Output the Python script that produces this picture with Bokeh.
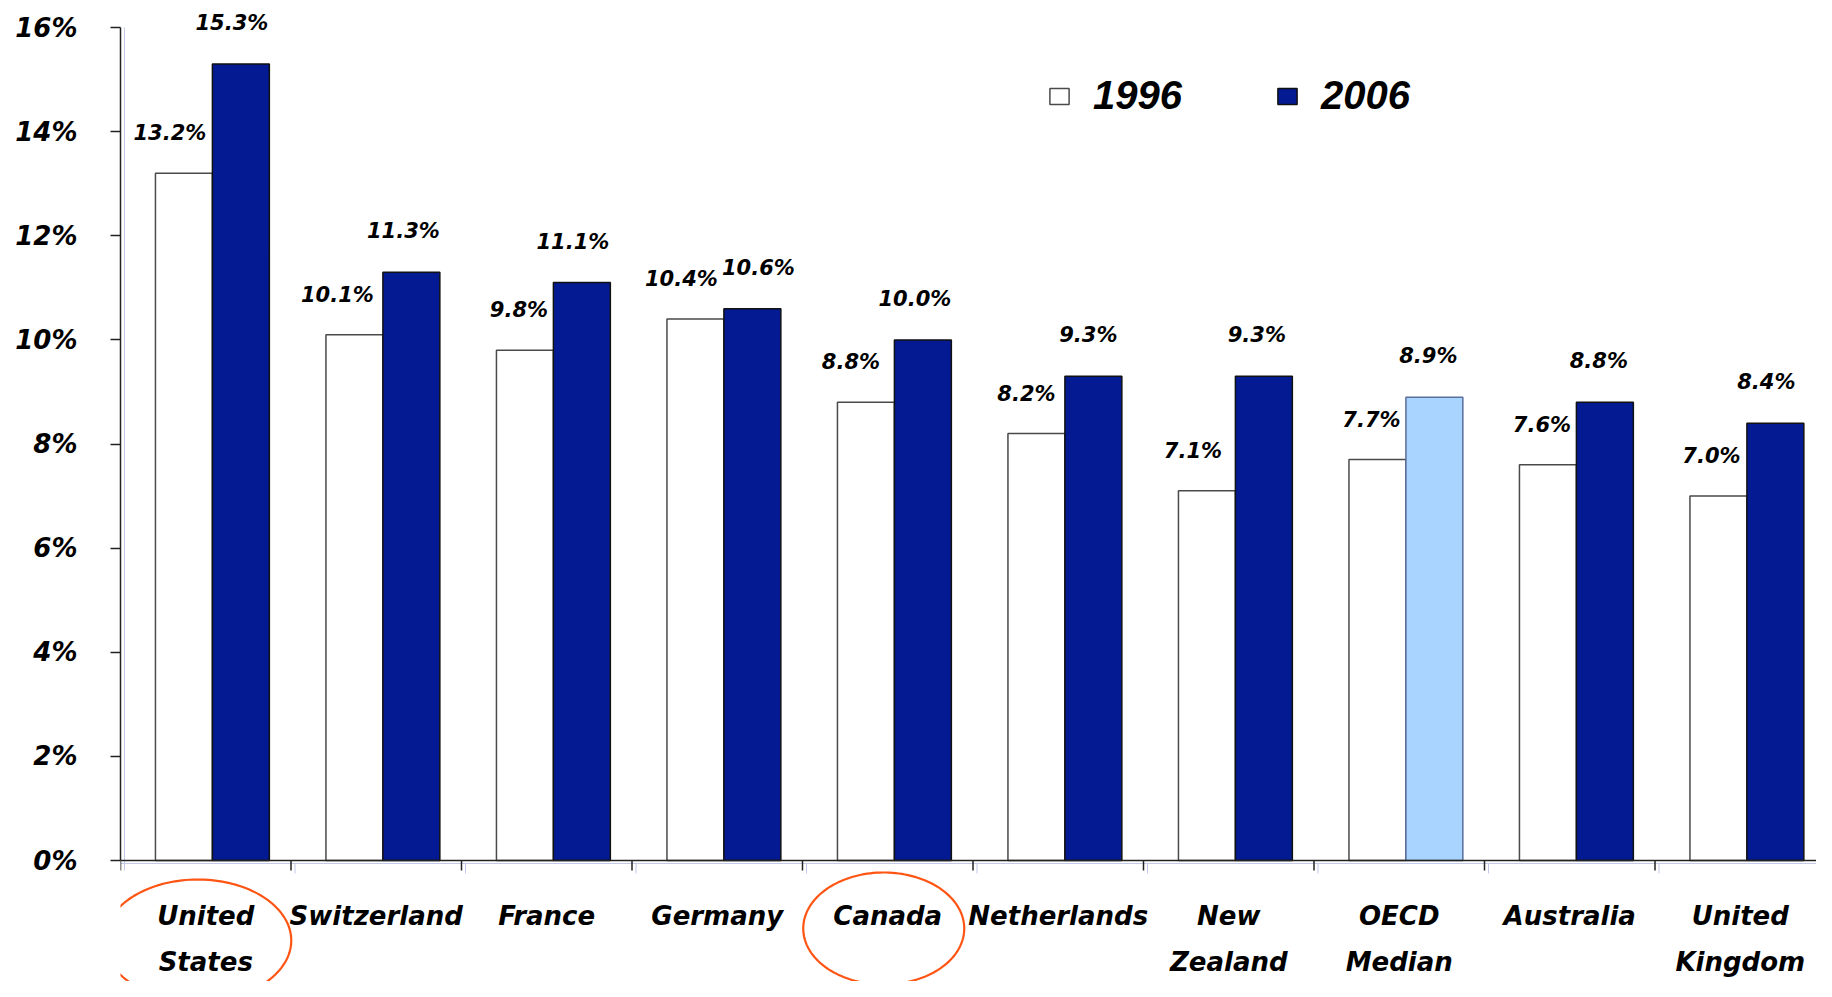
import numpy as np
from bokeh.plotting import figure
from bokeh.models import (ColumnDataSource, LabelSet, FixedTicker, PrintfTickFormatter,
                          Legend, LegendItem, PolyAnnotation, Span, Range1d)
from bokeh.transform import dodge
from bokeh.core.properties import value
from bokeh.embed import file_html
from bokeh.resources import INLINE

# ---------------- data ----------------
countries = ["United States", "Switzerland", "France", "Germany", "Canada",
             "Netherlands", "New Zealand", "OECD Median", "Australia", "United Kingdom"]
label_line1 = ["United", "Switzerland", "France", "Germany", "Canada",
               "Netherlands", "New", "OECD", "Australia", "United"]
label_line2 = ["States", "", "", "", "", "", "Zealand", "Median", "", "Kingdom"]
vals_1996 = [13.2, 10.1, 9.8, 10.4, 8.8, 8.2, 7.1, 7.7, 7.6, 7.0]
vals_2006 = [15.3, 11.3, 11.1, 10.6, 10.0, 9.3, 9.3, 8.9, 8.8, 8.4]
series_names = ["1996", "2006"]
y_ticks = [0, 2, 4, 6, 8, 10, 12, 14, 16]
highlighted = ["United States", "Canada"]
median_name = "OECD Median"

# ---------------- layout / styles ----------------
DARK = "#031A92"
LIGHT = "#A8D4FF"
FONT = "DejaVu Sans"
W_PX, H_PX = 1816, 981
LEFT = 120          # canvas x of y axis
TOP16 = 27          # canvas y of 16%
ZERO = 860          # canvas y of 0%
CAT_PX = 170.5      # pixel width of a category
PPU = (ZERO - TOP16) / 16.0   # pixels per percent
# horizontal nudges (px) of the value labels, as placed in the original
nudge_96 = [-14, -17, -6, -14, -15, -10, -14, -6, -6, -7]
nudge_06 = [-9, -8, -9, 6, -8, -5, -7, -6, -6, -9]

n = len(countries)
xc = np.arange(n) + 0.5
src = ColumnDataSource(dict(
    x=xc,
    v96=vals_1996,
    v06=vals_2006,
    lab96=[f"{v:.1f}%" for v in vals_1996],
    lab06=[f"{v:.1f}%" for v in vals_2006],
    col06=[LIGHT if c == median_name else DARK for c in countries],
    lc06=["#5a6f99" if c == median_name else "#111111" for c in countries],
    l1=label_line1,
    l2=label_line2,
    y0=[0] * n,
    nx96=nudge_96,
    nx06=nudge_06,
))

x_end = (W_PX - LEFT) / CAT_PX
y_end = 16 + TOP16 / PPU
y_start = -(H_PX - ZERO) / PPU

p = figure(width=W_PX, height=H_PX, x_range=Range1d(0, x_end), y_range=Range1d(y_start, y_end),
           output_backend="svg", toolbar_location=None, x_axis_location=None,
           min_border_left=LEFT, min_border_right=0, min_border_top=0, min_border_bottom=0)
p.outline_line_color = None
p.xgrid.visible = False
p.ygrid.visible = False
p.background_fill_color = "white"
p.border_fill_color = "white"

W = 0.334
OFF96 = -0.128
OFF06 = 0.206

# light-blue shadow lines of the axes
sh = 4 / CAT_PX
p.segment(x0=[sh], y0=[16], x1=[sh], y1=[-10 / PPU], line_color="#c3c9ea", line_width=1)
p.segment(x0=[0], y0=[-3 / PPU], x1=[x_end], y1=[-3 / PPU], line_color="#c3c9ea", line_width=1)
bt = np.arange(1, n + 1)
p.segment(x0=bt + sh, y0=[-3 / PPU] * n, x1=bt + sh, y1=[-13 / PPU] * n,
          line_color="#c3c9ea", line_width=1)

r96 = p.vbar(x=dodge("x", OFF96), top="v96", width=W, bottom=0, source=src,
             fill_color="white", line_color="#4a4a4a", line_width=1.5)
r06 = p.vbar(x=dodge("x", OFF06), top="v06", width=W, bottom=0, source=src,
             fill_color="col06", line_color="lc06", line_width=1.5)

# x axis line and boundary ticks
p.add_layout(Span(location=0, dimension="width", line_color="#222222", line_width=1.5))
bounds = np.arange(0, n + 1)
p.segment(x0=bounds, y0=[0] * (n + 1), x1=bounds, y1=[-10 / PPU] * (n + 1),
          line_color="#222222", line_width=1.5)

# y axis
ya = p.yaxis[0]
ya.bounds = (0, 16)
ya.ticker = FixedTicker(ticks=y_ticks)
ya.formatter = PrintfTickFormatter(format="%d%%")
ya.major_tick_out = 10
ya.major_tick_in = 0
ya.minor_tick_line_color = None
ya.axis_line_color = "#222222"
ya.axis_line_width = 1.5
ya.major_tick_line_color = "#222222"
ya.major_tick_line_width = 1.5
ya.major_label_standoff = 33
ya.major_label_text_font = FONT
ya.major_label_text_font_style = "bold italic"
ya.major_label_text_font_size = "26px"
ya.major_label_text_color = "black"

# data labels
common = dict(text_font=value(FONT), text_font_style="bold italic", text_font_size="21px",
              text_color="black", text_align="center", text_baseline="middle")
p.add_layout(LabelSet(x=dodge("x", OFF96), y="v96", text="lab96", source=src,
                      x_offset="nx96", y_offset=40, **common))
p.add_layout(LabelSet(x=dodge("x", OFF06), y="v06", text="lab06", source=src,
                      x_offset="nx06", y_offset=41, **common))

# category labels (two lines)
catstyle = dict(text_font=value(FONT), text_font_style="bold italic", text_font_size="26px",
                text_color="black", text_align="center", text_baseline="middle")
p.add_layout(LabelSet(x="x", y="y0", text="l1", source=src, y_offset=-55, **catstyle))
p.add_layout(LabelSet(x="x", y="y0", text="l2", source=src, y_offset=-101, **catstyle))

# highlight ellipses around selected category labels (pixel geometry)
ell_geom = {"United States": (-8, -80, 93.5, 61),
            "Canada": (-4, -68, 80.5, 56)}
t = np.linspace(0, 2 * np.pi, 160)
for name in highlighted:
    i = countries.index(name)
    dx, dy, ax, ay = ell_geom[name]
    cx = xc[i] + dx / CAT_PX
    cy = dy / PPU
    p.add_layout(PolyAnnotation(xs=list(cx + ax / CAT_PX * np.cos(t)),
                                ys=list(cy + ay / PPU * np.sin(t)),
                                xs_units="data", ys_units="data",
                                fill_color=None, fill_alpha=0,
                                line_color="#FF5514", line_alpha=1.0, line_width=2.2))

# legend
legend = Legend(items=[LegendItem(label=series_names[0], renderers=[r96], index=0),
                       LegendItem(label=series_names[1], renderers=[r06], index=0)],
                orientation="horizontal", location=(927, 863),
                label_text_font="Liberation Sans", label_text_font_style="bold italic",
                label_text_font_size="40px", label_text_color="black",
                glyph_width=24, glyph_height=20, label_standoff=22, spacing=93,
                padding=0, margin=0, border_line_color=None, background_fill_alpha=0)
p.add_layout(legend)

open("out.html", "w").write(file_html(p, INLINE))
